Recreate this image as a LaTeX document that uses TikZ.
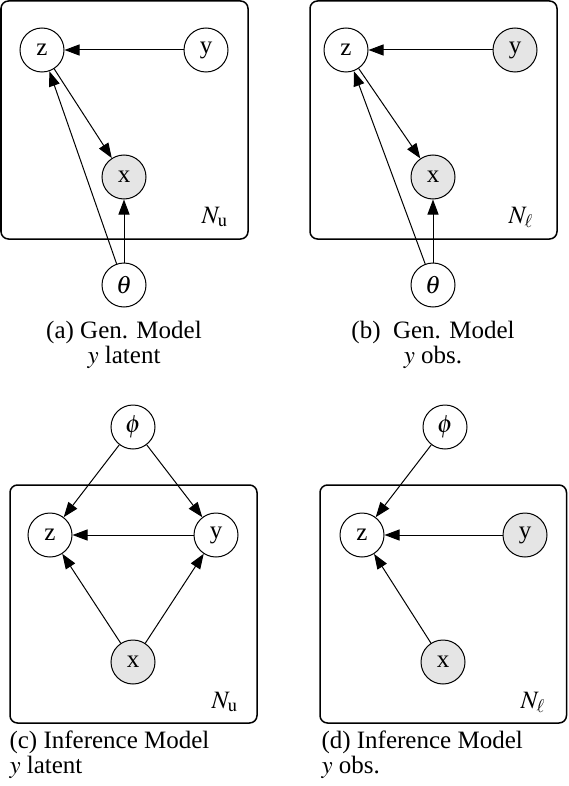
\documentclass[tikz,border=0pt]{standalone}
\usepackage{mathptmx}
\usepackage{fontspec}
\setmainfont{Liberation Serif}
\usepackage{tikz}
\usetikzlibrary{arrows.meta,positioning}
\tikzset{
  latent/.style = {circle, draw, fill=white, minimum size=17.6pt, inner sep=0pt, font=\fontsize{10}{12}\selectfont},
  obs/.style = {latent, fill=black!10},
  plate/.style = {draw, line width=0.6pt, rounded corners=3pt},
  edge/.style = {-{Triangle[length=6pt,width=4.4pt]}, line width=0.4pt},
  capt/.style = {font=\fontsize{10}{10}\selectfont, inner sep=0pt},
  platelbl/.style = {font=\fontsize{10}{12}\selectfont, inner sep=0pt}
}

\begin{document}
\begin{tikzpicture}[x=0.4pt, y=-0.4pt]
\useasboundingbox (0,0) rectangle (568,786);

% (a) generative model, y latent
\draw[plate] (1,1) rectangle (248,239);
\node[latent] (za) at (42,50) {z};
\node[latent] (ya) at (206,50) {y};
\node[obs] (xa) at (124,177) {x};
\node[latent] (ta) at (124,285) {$\theta$};
\node[platelbl] (na) at (215,217) {$N_{\mathrm{u}}$};
\draw[edge] (ya) -- (za);
\draw[edge] (za) -- (xa);
\draw[edge] (ta) -- (za);
\draw[edge] (ta) -- (xa);
\node[capt, align=center] (capa) at (124,345) {(a) Gen. Model\\$y$ latent};

% (b) generative model, y observed
\draw[plate] (310,1) rectangle (557,239);
\node[latent] (zb) at (346,50) {z};
\node[obs] (yb) at (515,50) {y};
\node[obs] (xb) at (433,177) {x};
\node[latent] (tb) at (433,285) {$\theta$};
\node[platelbl] (nb) at (521,217) {$N_{\ell}$};
\draw[edge] (yb) -- (zb);
\draw[edge] (zb) -- (xb);
\draw[edge] (tb) -- (zb);
\draw[edge] (tb) -- (xb);
\node[capt, align=center] (capb) at (433,345) {(b)~\ Gen. Model\\$y$ obs.};

% (c) inference model, y latent
\draw[plate] (10,485) rectangle (257,723);
\node[latent] (pc) at (133,427) {$\phi$};
\node[latent] (zc) at (50,535) {z};
\node[latent] (yc) at (216,535) {y};
\node[obs] (xc) at (133,662) {x};
\node[platelbl] (nc) at (225,702) {$N_{\mathrm{u}}$};
\draw[edge] (pc) -- (zc);
\draw[edge] (pc) -- (yc);
\draw[edge] (yc) -- (zc);
\draw[edge] (xc) -- (zc);
\draw[edge] (xc) -- (yc);
\node[capt, align=left, anchor=west] (capc) at (9,755) {(c) Inference Model\\$y$ latent};

% (d) inference model, y observed
\draw[plate] (320,485) rectangle (566.5,723);
\node[latent] (pd) at (445,427) {$\phi$};
\node[latent] (zd) at (362,535) {z};
\node[obs] (yd) at (525,535) {y};
\node[obs] (xd) at (443,662) {x};
\node[platelbl] (nd) at (533,702) {$N_{\ell}$};
\draw[edge] (pd) -- (zd);
\draw[edge] (yd) -- (zd);
\draw[edge] (xd) -- (zd);
\node[capt, align=left, anchor=west] (capd) at (321,755) {(d) Inference Model\\$y$ obs.};
\end{tikzpicture}
\end{document}
